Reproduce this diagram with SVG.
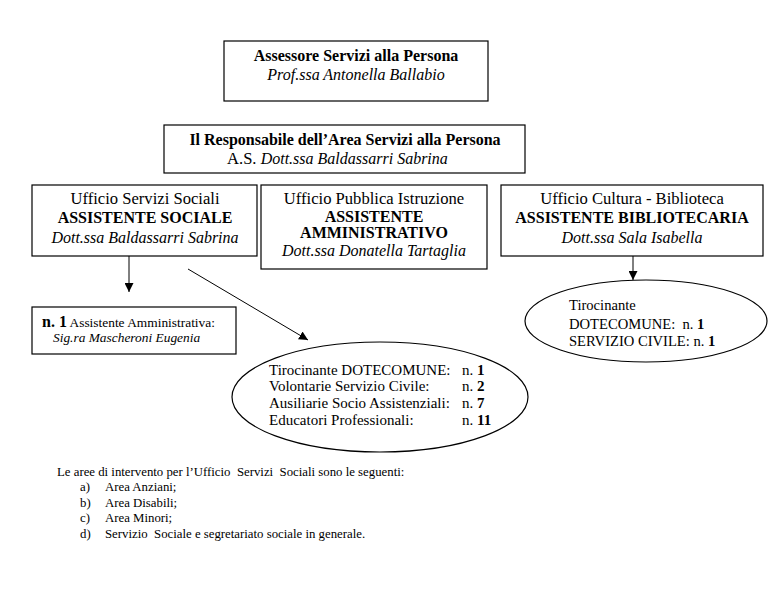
<svg xmlns="http://www.w3.org/2000/svg" width="775" height="602" viewBox="0 0 775 602">
<style>
text{font-family:"Liberation Serif","Times New Roman",serif;fill:#000;}
.box{fill:#fff;stroke:#000;stroke-width:1.2;}
.t{font-size:16px;}
.r{font-size:16.6px;}
.b{font-weight:bold;}
.i{font-style:italic;}
.m{text-anchor:middle;}
.e{font-size:15px;}
.f{font-size:14.6px;}
.s{font-size:12.8px;}
.n{font-size:13.4px;}
.c{stroke:#000;stroke-width:1;fill:none;}
</style>
<defs>
<marker id="ah" viewBox="0 0 10 10" refX="10" refY="5" markerWidth="9" markerHeight="9" markerUnits="userSpaceOnUse" orient="auto">
<path d="M0,0 L10,5 L0,10 Z" fill="#000"/>
</marker>
</defs>
<rect width="775" height="602" fill="#fff"/>
<g id="connectors">
<line class="c" x1="129" y1="256" x2="129" y2="292" marker-end="url(#ah)"/>
<line class="c" x1="188" y1="269" x2="308" y2="340" marker-end="url(#ah)"/>
<line class="c" x1="633" y1="256" x2="633" y2="280" marker-end="url(#ah)"/>
</g>
<g id="assessore">
<rect class="box" x="224" y="41" width="264" height="60"/>
<text class="t b m" x="356" y="61">Assessore Servizi alla Persona</text>
<text class="t i m" x="356" y="80">Prof.ssa Antonella Ballabio</text>
</g>
<g id="responsabile">
<rect class="box" x="164" y="125" width="361" height="48"/>
<text class="t b m" x="345" y="145">Il Responsabile dell’Area Servizi alla Persona</text>
<text class="r" x="227" y="164">A.S. <tspan class="t i">Dott.ssa Baldassarri Sabrina</tspan></text>
</g>
<g id="servizi-sociali">
<rect class="box" x="32" y="185" width="225" height="71"/>
<text class="r m" x="145" y="204">Ufficio Servizi Sociali</text>
<text class="t b m" x="145" y="223">ASSISTENTE SOCIALE</text>
<text class="t i m" x="145" y="243">Dott.ssa Baldassarri Sabrina</text>
</g>
<g id="pubblica-istruzione">
<rect class="box" x="261" y="185" width="226" height="84"/>
<text class="r m" x="374" y="204">Ufficio Pubblica Istruzione</text>
<text class="t b m" x="374" y="222">ASSISTENTE</text>
<text class="t b m" x="374" y="238">AMMINISTRATIVO</text>
<text class="t i m" x="374" y="256">Dott.ssa Donatella Tartaglia</text>
</g>
<g id="cultura-biblioteca">
<rect class="box" x="501" y="185" width="262" height="71"/>
<text class="r m" x="632" y="204">Ufficio Cultura - Biblioteca</text>
<text class="t b m" x="632" y="223">ASSISTENTE BIBLIOTECARIA</text>
<text class="t i m" x="632" y="243">Dott.ssa Sala Isabella</text>
</g>
<g id="assistente-amministrativa">
<rect class="box" x="32" y="307" width="204" height="47"/>
<text x="42" y="327"><tspan class="t b">n. 1</tspan><tspan class="n"> Assistente Amministrativa:</tspan></text>
<text class="n i" x="53" y="342">Sig.ra Mascheroni Eugenia</text>
</g>
<g id="personale-servizi-sociali">
<ellipse class="box" cx="380" cy="397" rx="148" ry="55"/>
<text class="e" x="269" y="375">Tirocinante DOTECOMUNE:</text>
<text class="e" x="269" y="391">Volontarie Servizio Civile:</text>
<text class="e" x="269" y="408">Ausiliarie Socio Assistenziali:</text>
<text class="e" x="269" y="425">Educatori Professionali:</text>
<text class="e" x="462" y="375">n. <tspan class="b">1</tspan></text>
<text class="e" x="462" y="391">n. <tspan class="b">2</tspan></text>
<text class="e" x="462" y="408">n. <tspan class="b">7</tspan></text>
<text class="e" x="462" y="425">n. <tspan class="b">11</tspan></text>
</g>
<g id="personale-biblioteca">
<ellipse class="box" cx="646" cy="321" rx="121" ry="41"/>
<text class="f" x="569" y="310">Tirocinante</text>
<text class="f" x="569" y="329" xml:space="preserve">DOTECOMUNE:  n. <tspan class="b">1</tspan></text>
<text class="f" x="569" y="346">SERVIZIO CIVILE: n. <tspan class="b">1</tspan></text>
</g>
<g id="aree-intervento">
<text class="s" x="57" y="476" xml:space="preserve">Le aree di intervento per l’Ufficio  Servizi  Sociali sono le seguenti:</text>
<text class="s" x="80" y="491">a)</text><text class="s" x="105" y="491">Area Anziani;</text>
<text class="s" x="80" y="507">b)</text><text class="s" x="105" y="507">Area Disabili;</text>
<text class="s" x="80" y="522">c)</text><text class="s" x="105" y="522">Area Minori;</text>
<text class="s" x="80" y="538">d)</text><text class="s" x="105" y="538" xml:space="preserve">Servizio  Sociale e segretariato sociale in generale.</text>
</g>
</svg>
